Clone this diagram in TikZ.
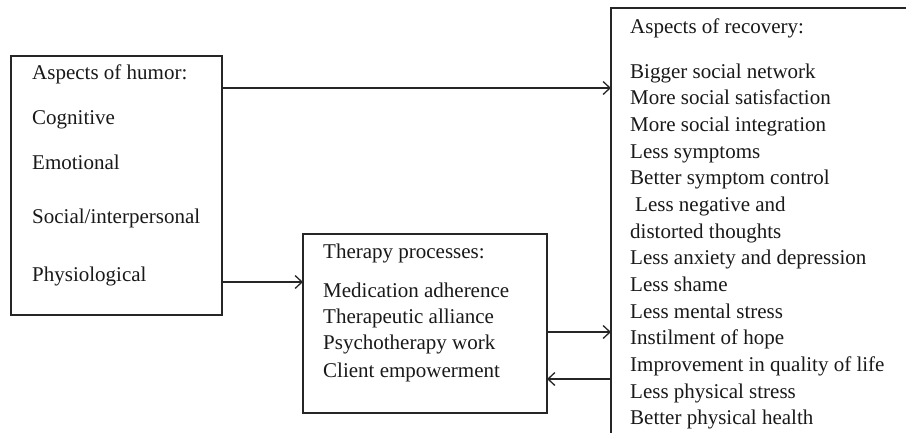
\documentclass[tikz,border=0pt]{standalone}
\usepackage{fontspec}
\setmainfont{Liberation Serif}
\usetikzlibrary{arrows.meta}
\begin{document}
\begin{tikzpicture}[x=1pt,y=-1pt,
 box/.style={draw=black!85, line width=1.3pt, rectangle, inner sep=0pt, outer sep=0pt, anchor=north west},
 txt/.style={anchor=base west, inner sep=0pt, font=\fontsize{21}{25}\selectfont, text=black!90},
 conn/.style={draw=black!85, line width=1.3pt, -{Straight Barb[length=7pt,width=13pt]}}]
\clip (0,0) rectangle (906,432);
\fill[white] (0,0) rectangle (906,432);
% boxes
\node[box, minimum width=211pt, minimum height=259pt] (hum) at (11,56) {};
\node[box, minimum width=244pt, minimum height=179pt] (thp) at (303,234) {};
\node[box, minimum width=400pt, minimum height=500pt] (rec) at (611,8) {};
% humor text
\node[txt] (h0) at (32,79) {Aspects of humor:};
\node[txt] (h1) at (32,124) {Cognitive};
\node[txt] (h2) at (32,169) {Emotional};
\node[txt] (h3) at (32,223) {Social/interpersonal};
\node[txt] (h4) at (32,281) {Physiological};
% therapy text
\node[txt] (t0) at (323,258) {Therapy processes:};
\node[txt] (t1) at (323,297) {Medication adherence};
\node[txt] (t2) at (323,323) {Therapeutic alliance};
\node[txt] (t3) at (323,349) {Psychotherapy work};
\node[txt] (t4) at (323,377) {Client empowerment};
% recovery text
\node[txt] (r0) at (630,33) {Aspects of recovery:};
\node[txt] (r1) at (630,78) {Bigger social network};
\node[txt] (r2) at (630,104) {More social satisfaction};
\node[txt] (r3) at (630,131) {More social integration};
\node[txt] (r4) at (630,158) {Less symptoms};
\node[txt] (r5) at (630,184) {Better symptom control};
\node[txt] (r6) at (635,211) {Less negative and};
\node[txt] (r7) at (630,238) {distorted thoughts};
\node[txt] (r8) at (630,264) {Less anxiety and depression};
\node[txt] (r9) at (630,291) {Less shame};
\node[txt] (r10) at (630,318) {Less mental stress};
\node[txt] (r11) at (630,344) {Instilment of hope};
\node[txt] (r12) at (630,371) {Improvement in quality of life};
\node[txt] (r13) at (630,398) {Less physical stress};
\node[txt] (r14) at (630,424) {Better physical health};
% connectors
\coordinate (y1) at (0,88);
\coordinate (y2) at (0,282);
\coordinate (y3) at (0,332);
\coordinate (y4) at (0,379);
\draw[conn] (hum.east |- y1) -- (rec.west |- y1);
\draw[conn] (hum.east |- y2) -- (thp.west |- y2);
\draw[conn] (thp.east |- y3) -- (rec.west |- y3);
\draw[conn] (rec.west |- y4) -- (thp.east |- y4);
\end{tikzpicture}
\end{document}
